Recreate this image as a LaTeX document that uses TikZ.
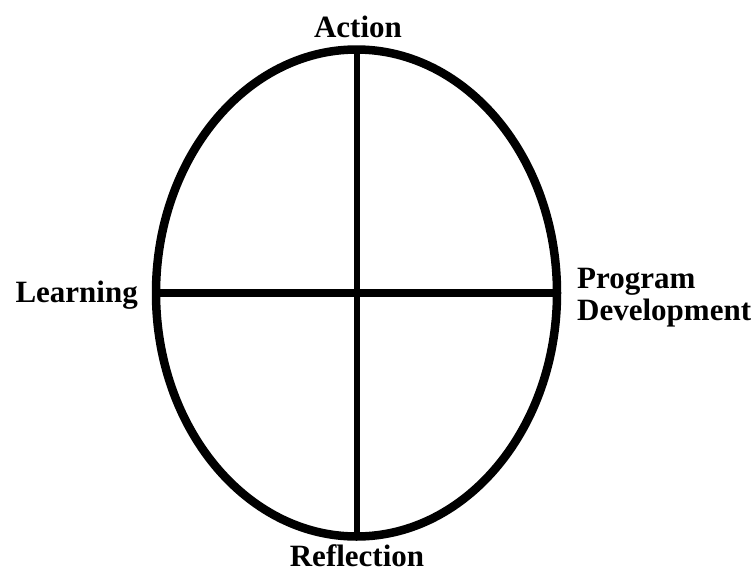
\documentclass[tikz,border=0pt]{standalone}
\usepackage{fontspec}
\setmainfont{Liberation Serif}
\usetikzlibrary{shapes.geometric}
\begin{document}
\begin{tikzpicture}[x=1pt,y=-1pt,
  lbl/.style={font=\fontsize{31}{32}\selectfont\bfseries, inner sep=0pt},
  ring/.style={draw=black, line width=8.5pt, ellipse, minimum width=401pt, minimum height=487pt, inner sep=0pt, outer sep=0pt},
  bar/.style={draw=black, line cap=butt}]
\useasboundingbox (0,0) rectangle (756,574);
\node[ring] (e) at (356.5,293) {};
\draw[bar, line width=6pt] (e.north) -- (e.south);
\draw[bar, line width=8pt] (e.west) -- (e.east);
\node[lbl, anchor=base] (act) at (358,37) {Action};
\node[lbl, anchor=base] (ref) at (357,566) {Reflection};
\node[lbl, anchor=base east] (lea) at (138,302) {Learning};
\node[lbl, anchor=base west, align=left] (prog) at (577,320) {Program\\Development};
\end{tikzpicture}
\end{document}
